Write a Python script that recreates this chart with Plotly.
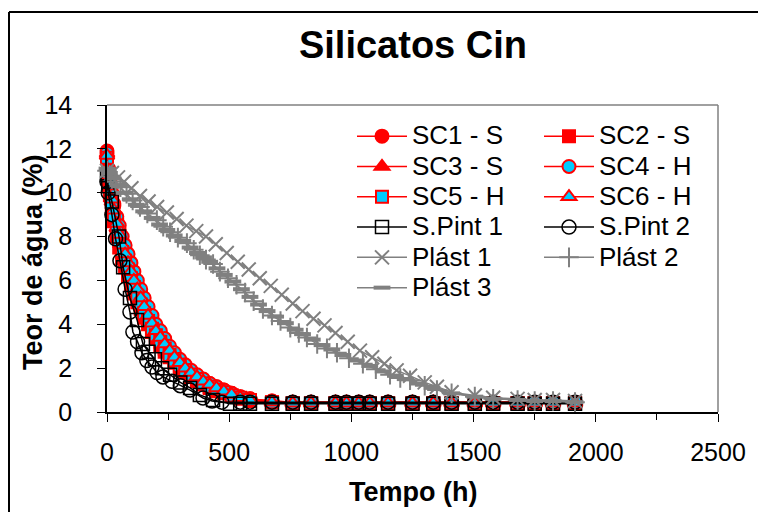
import plotly.graph_objects as go

# ---------------- data ----------------
t_sc = [0, 6, 12, 20, 28, 40, 50, 62, 74, 86, 98, 110, 124, 138, 152, 168, 184, 200, 218, 236,
        256, 276, 298, 320, 344, 368, 394, 420, 448, 478, 510, 545, 585, 675, 760, 835, 935, 980,
        1030, 1075, 1150, 1250, 1335, 1410, 1505, 1580, 1680, 1750, 1825, 1915]

sc1 = [11.9, 11.1, 10.5, 9.9, 9.4, 8.8, 8.3, 7.8, 7.4, 7.0, 6.6, 6.2, 5.8, 5.4, 5.0, 4.6, 4.25, 3.9, 3.55, 3.25,
       2.9, 2.6, 2.35, 2.1, 1.85, 1.65, 1.45, 1.3, 1.15, 1.0, 0.85, 0.7, 0.6, 0.5, 0.45, 0.45, 0.45, 0.45,
       0.45, 0.45, 0.45, 0.45, 0.45, 0.45, 0.45, 0.45, 0.45, 0.45, 0.45, 0.45]
sc2 = [11.7, 10.6, 9.9, 9.3, 8.7, 8.0, 7.5, 7.0, 6.6, 6.2, 5.8, 5.4, 5.0, 4.7, 4.3, 4.0, 3.65, 3.35, 3.05, 2.75,
       2.5, 2.25, 2.0, 1.8, 1.6, 1.4, 1.25, 1.1, 0.95, 0.85, 0.75, 0.6, 0.5, 0.45, 0.4, 0.4, 0.4, 0.4,
       0.4, 0.4, 0.4, 0.4, 0.4, 0.4, 0.4, 0.4, 0.4, 0.4, 0.4, 0.4]
sc3 = [11.8, 10.9, 10.2, 9.6, 9.0, 8.4, 7.9, 7.4, 7.0, 6.6, 6.2, 5.8, 5.4, 5.0, 4.65, 4.3, 3.95, 3.6, 3.3, 3.0,
       2.7, 2.4, 2.15, 1.95, 1.75, 1.55, 1.35, 1.2, 1.05, 0.9, 0.8, 0.65, 0.55, 0.45, 0.45, 0.45, 0.45, 0.45,
       0.45, 0.45, 0.45, 0.45, 0.45, 0.45, 0.45, 0.45, 0.45, 0.45, 0.45, 0.45]
sc4 = [11.8, 11.0, 10.5, 10.0, 9.5, 8.9, 8.5, 8.0, 7.6, 7.2, 6.8, 6.4, 6.0, 5.6, 5.2, 4.8, 4.4, 4.0, 3.7, 3.35,
       3.0, 2.7, 2.4, 2.15, 1.9, 1.7, 1.5, 1.3, 1.15, 1.0, 0.85, 0.7, 0.6, 0.5, 0.45, 0.45, 0.45, 0.45,
       0.45, 0.45, 0.45, 0.45, 0.45, 0.45, 0.45, 0.45, 0.45, 0.45, 0.45, 0.45]
sc5 = [11.6, 10.7, 10.1, 9.5, 8.9, 8.2, 7.8, 7.3, 6.9, 6.5, 6.1, 5.7, 5.3, 4.9, 4.5, 4.15, 3.8, 3.5, 3.2, 2.9,
       2.6, 2.35, 2.1, 1.9, 1.7, 1.5, 1.3, 1.15, 1.0, 0.9, 0.75, 0.65, 0.55, 0.45, 0.4, 0.4, 0.4, 0.4,
       0.4, 0.4, 0.4, 0.4, 0.4, 0.4, 0.4, 0.4, 0.4, 0.4, 0.4, 0.4]
sc6 = [11.7, 10.8, 10.3, 9.7, 9.2, 8.6, 8.1, 7.6, 7.2, 6.8, 6.4, 6.0, 5.6, 5.2, 4.8, 4.4, 4.05, 3.7, 3.4, 3.1,
       2.8, 2.5, 2.25, 2.0, 1.8, 1.6, 1.4, 1.25, 1.1, 0.95, 0.8, 0.65, 0.55, 0.45, 0.4, 0.4, 0.4, 0.4,
       0.4, 0.4, 0.4, 0.4, 0.4, 0.4, 0.4, 0.4, 0.4, 0.4, 0.4, 0.4]

t_sp1 = [0, 5, 20, 49, 66, 94, 123, 147, 170, 196, 225, 258, 300, 340, 380, 434, 503, 545, 585, 675,
         760, 835, 935, 980, 1030, 1075, 1150, 1250, 1335, 1410, 1505, 1580, 1680, 1750, 1825, 1915]
sp1 = [10.8, 10.3, 9.6, 8.0, 6.6, 5.2, 4.2, 3.1, 2.75, 2.4, 2.0, 1.7, 1.35, 1.1, 0.78, 0.55, 0.38, 0.38, 0.38, 0.38,
       0.38, 0.38, 0.38, 0.38, 0.38, 0.38, 0.38, 0.38, 0.38, 0.38, 0.38, 0.38, 0.38, 0.38, 0.38, 0.38]

t_sp2 = [0, 5, 20, 35, 53, 74, 94, 106, 125, 143, 163, 184, 205, 229, 266, 300, 340, 393, 430, 470,
         545, 585, 675, 760, 835, 935, 980, 1030, 1075, 1150, 1250, 1335, 1410, 1505, 1580, 1680, 1750, 1825, 1915]
sp2 = [10.5, 10.0, 9.0, 7.9, 6.9, 5.6, 4.56, 3.65, 3.2, 2.7, 2.35, 2.05, 1.8, 1.6, 1.4, 1.2, 1.0, 0.64, 0.5, 0.45,
       0.45, 0.45, 0.45, 0.45, 0.45, 0.45, 0.45, 0.45, 0.45, 0.45, 0.45, 0.45, 0.45, 0.45, 0.45, 0.45, 0.45, 0.45, 0.45]

t_pl1 = [0, 20, 45, 70, 100, 135, 170, 205, 245, 285, 325, 365, 405, 445, 490, 535, 580, 625, 670, 715,
         760, 800, 845, 890, 935, 985, 1035, 1085, 1135, 1185, 1240, 1300, 1350, 1410, 1505, 1580, 1680, 1750, 1825, 1915]
pl1 = [11.0, 10.9, 10.7, 10.5, 10.2, 9.85, 9.6, 9.35, 9.1, 8.8, 8.5, 8.25, 8.0, 7.65, 7.25, 6.85, 6.5, 6.1, 5.75, 5.35,
       4.95, 4.6, 4.25, 3.95, 3.6, 3.2, 2.8, 2.5, 2.2, 1.9, 1.65, 1.35, 1.15, 0.9, 0.75, 0.65, 0.6, 0.55, 0.55, 0.5]

t_pl2 = [0, 15, 35, 55, 80, 105, 135, 165, 204, 230, 258, 290, 327, 355, 380, 405, 434, 462, 495, 530,
         565, 600, 638, 675, 710, 750, 785, 818, 860, 900, 941, 990, 1047, 1100, 1158, 1200, 1240, 1300, 1350,
         1410, 1505, 1580, 1680, 1750, 1825, 1915]
pl2 = [11.0, 10.75, 10.5, 10.25, 9.95, 9.65, 9.35, 9.05, 8.75, 8.45, 8.2, 7.95, 7.7, 7.4, 7.15, 6.95, 6.75, 6.4, 6.1, 5.8,
       5.45, 5.05, 4.7, 4.4, 4.15, 3.85, 3.6, 3.4, 3.1, 2.9, 2.7, 2.45, 2.2, 1.95, 1.7, 1.55, 1.45, 1.2, 1.0,
       0.85, 0.7, 0.6, 0.55, 0.5, 0.5, 0.45]

t_pl3 = [0, 10, 25, 45, 70, 95, 120, 150, 185, 215, 245, 275, 310, 340, 370, 395, 420, 450, 480, 515,
         550, 585, 620, 655, 690, 730, 770, 800, 840, 880, 920, 965, 1020, 1075, 1130, 1180, 1220, 1270, 1330,
         1410, 1505, 1580, 1680, 1750, 1825, 1915]
pl3 = [11.1, 10.9, 10.65, 10.35, 10.0, 9.7, 9.45, 9.15, 8.85, 8.55, 8.3, 8.05, 7.8, 7.5, 7.25, 7.05, 6.85, 6.55, 6.25, 5.95,
       5.6, 5.25, 4.9, 4.6, 4.35, 4.05, 3.75, 3.55, 3.3, 3.05, 2.85, 2.6, 2.35, 2.1, 1.85, 1.65, 1.5, 1.3, 1.1,
       0.85, 0.7, 0.6, 0.55, 0.5, 0.5, 0.45]

x_range = [0, 2500]
y_range = [0, 14]
x_ticks = [0, 500, 1000, 1500, 2000, 2500]
y_ticks = [0, 2, 4, 6, 8, 10, 12, 14]

# ---------------- figure ----------------
RED = "#FF0000"
CYAN = "#00CCFF"
GRAY = "#808080"
FONT = "Liberation Sans, Arial, sans-serif"
LEG_TXT = 26  # rendered legend text size

fig = go.Figure()

def add(name, x, y, color, symbol, mcolor, mline, size, legend, lw=1.5, mlw=2):
    fig.add_trace(go.Scatter(
        x=x, y=y, mode="lines+markers", cliponaxis=False,
        name=f'<span style="font-size:{LEG_TXT}px">{name}</span>',
        line=dict(color=color, width=lw),
        marker=dict(symbol=symbol, size=size, color=mcolor,
                    line=dict(color=mline, width=mlw)),
        legend=legend,
    ))

add("SC1 - S", t_sc, sc1, RED, "circle", RED, RED, 13, "legend")
add("SC2 - S", t_sc, sc2, RED, "square", RED, RED, 12, "legend2")
add("SC3 - S", t_sc, sc3, RED, "triangle-up", RED, RED, 13, "legend")
add("SC4 - H", t_sc, sc4, RED, "circle", CYAN, RED, 13, "legend2")
add("SC5 - H", t_sc, sc5, RED, "square", CYAN, RED, 12, "legend")
add("SC6 - H", t_sc, sc6, RED, "triangle-up", CYAN, RED, 13, "legend2")
add("S.Pint 1", t_sp1, sp1, "black", "square-open", "black", "black", 13, "legend", mlw=1.5)
add("S.Pint 2", t_sp2, sp2, "black", "circle-open", "black", "black", 14, "legend2", mlw=1.5)
add("Plást 1", t_pl1, pl1, GRAY, "x-thin-open", GRAY, GRAY, 14, "legend", mlw=2)
add("Plást 2", t_pl2, pl2, GRAY, "cross-thin-open", GRAY, GRAY, 14, "legend2", mlw=2)
add("Plást 3", t_pl3, pl3, GRAY, "line-ew-open", GRAY, GRAY, 12, "legend", mlw=4)

OFF = 8                                # page body margin of the html page
W, H = 766 - 2 * OFF, 512 - OFF        # figure size
L, R, T, B = 107, 718, 105, 412        # plot area in page pixels
pw, ph = R - L, B - T

def px(xp):
    return (xp - L) / pw

def py(yp):
    return (B - yp) / ph

leg_common = dict(font=dict(family=FONT, size=21, color="black"),
                  bgcolor="rgba(0,0,0,0)", borderwidth=0,
                  tracegroupgap=0, itemwidth=50,
                  xanchor="left", yanchor="top", orientation="v")

fig.update_layout(
    width=W, height=H,
    margin=dict(l=L - OFF, r=W + OFF - R, t=T - OFF, b=H + OFF - B, autoexpand=False),
    paper_bgcolor="white", plot_bgcolor="white",
    font=dict(family=FONT, size=25, color="black"),
    title=dict(text="<b>Silicatos Cin</b>", x=(413 - OFF) / W, xanchor="center",
               y=1 - (45 - OFF) / H, yanchor="middle",
               font=dict(family=FONT, size=38, color="black")),
    showlegend=True,
    legend=dict(x=px(352), y=py(116), **leg_common),
    legend2=dict(x=px(539), y=py(116), **leg_common),
    xaxis=dict(range=x_range, tickvals=x_ticks, ticktext=[str(v) for v in x_ticks],
               automargin=False,
               showgrid=False, zeroline=False, showline=True, linecolor="black", linewidth=1.5,
               ticks="outside", ticklen=8, tickwidth=1, tickcolor="black",
               minor=dict(dtick=250, ticks="outside", ticklen=6, tickcolor="black", showgrid=False),
               ticklabelstandoff=9,
               tickfont=dict(family=FONT, size=25, color="black")),
    yaxis=dict(range=y_range, tickvals=y_ticks, ticktext=[str(v) for v in y_ticks],
               automargin=False,
               showgrid=False, zeroline=False, showline=True, linecolor="black", linewidth=1.5,
               ticks="outside", ticklen=8, tickwidth=1, tickcolor="black",
               ticklabelstandoff=20,
               tickfont=dict(family=FONT, size=25, color="black")),
)

# axis titles as text placed like the reference
fig.add_annotation(text="<b>Teor de água (%)</b>", textangle=-90, showarrow=False,
                   xref="paper", yref="paper", x=px(33), y=py(262),
                   xanchor="center", yanchor="middle",
                   font=dict(family=FONT, size=27, color="black"))
fig.add_annotation(text="<b>Tempo (h)</b>", showarrow=False,
                   xref="paper", yref="paper", x=px(413), y=py(492),
                   xanchor="center", yanchor="middle",
                   font=dict(family=FONT, size=27, color="black"))

# plot-area border (top and right) and outer chart border (left and top edges)
fig.add_shape(type="line", xref="paper", yref="paper", x0=0, x1=1, y0=1, y1=1,
              line=dict(color=GRAY, width=1.5), layer="below")
fig.add_shape(type="line", xref="paper", yref="paper", x0=1, x1=1, y0=0, y1=1,
              line=dict(color=GRAY, width=1.5), layer="below")
fig.add_shape(type="line", xref="paper", yref="paper",
              x0=px(9), x1=px(775), y0=py(12), y1=py(12),
              line=dict(color="black", width=2))
fig.add_shape(type="line", xref="paper", yref="paper",
              x0=px(9), x1=px(9), y0=py(12), y1=py(520),
              line=dict(color="black", width=2))

fig.write_html("out.html")
